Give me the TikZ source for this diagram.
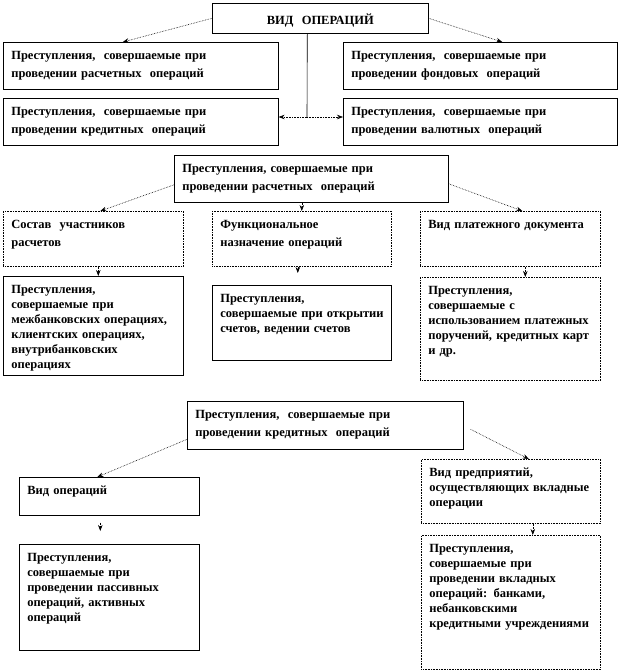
\documentclass[tikz,border=0pt]{standalone}
\usepackage{fontspec}
\setmainfont{Liberation Serif}
\usetikzlibrary{arrows.meta}

\begin{document}
\begin{tikzpicture}[x=1pt,y=-1pt,
  font=\bfseries\fontsize{12.5}{15}\selectfont,
  blk/.style={draw=black,line width=0.6pt,anchor=north west,align=left,
              inner xsep=8pt,inner ysep=4pt,text height=13pt},
  dblk/.style={blk,densely dotted},
  wide/.style={font=\bfseries\fontsize{12.5}{18}\selectfont},
  a/.style={-{Stealth[length=6pt,width=4.5pt]},densely dotted,line width=0.6pt},
  ln/.style={line width=0.6pt}]
\useasboundingbox (0,0) rectangle (621,672);

% ------------------------------ kinds -------------------------------------
\node[blk,align=center,text width=200pt,text height=17pt,text depth=5pt] (op) at (212,3)
  {ВИД\ \ ОПЕРАЦИЙ};
\node[blk,wide,text width=259pt,text depth=26pt] (r1) at (3,42)
  {Преступления,\ \ совершаемые при\\проведении расчетных\ \ операций};
\node[blk,wide,text width=258pt,text depth=26pt] (f1) at (343,42)
  {Преступления,\ \ совершаемые при\\проведении фондовых\ \ операций};
\node[blk,wide,text width=259pt,text depth=26pt] (k1) at (3,98)
  {Преступления,\ \ совершаемые при\\проведении кредитных\ \ операций};
\node[blk,wide,text width=258pt,text depth=26pt] (v1) at (343,98)
  {Преступления,\ \ совершаемые при\\проведении валютных\ \ операций};
\draw[a] (op.west) -- ([xshift=-18pt]r1.north);
\draw[a] (op.east) -- ([xshift=22pt]f1.north);
% the trunk goes down between the lower pair
\coordinate (fork) at (307,117);
\draw[ln] ([xshift=-13pt]op.south) -- (fork);
\draw[a] (fork) -- (fork -| k1.east);
\draw[a] (fork) -- (fork -| v1.west);

% ---------------------------- settlements ---------------------------------
\node[blk,wide,text width=258pt,text depth=26pt] (h2) at (174,155)
  {Преступления, совершаемые при\\проведении расчетных\ \ операций};
\node[dblk,wide,text width=164pt,text depth=34pt] (c1) at (3,211)
  {Состав\ \ участников\\расчетов};
\node[dblk,wide,text width=163pt,text depth=34pt] (c2) at (212,211)
  {Функциональное\\назначение операций};
\node[dblk,wide,text width=164pt,text depth=34pt] (c3) at (420,211)
  {Вид платежного~документа};
\node[blk,text width=164pt,text depth=78pt] (g1) at (3,276)
  {Преступления,\\совершаемые при\\межбанковских~операциях,\\клиентских~операциях,\\внутрибанковских\\операциях};
\node[blk,text width=163pt,text depth=54pt] (g2) at (212,285)
  {Преступления,\\совершаемые~при~открытии\\счетов, ведении счетов};
\node[dblk,text width=164pt,text depth=82pt] (g3) at (420,277)
  {Преступления,\\совершаемые с\\использованием~платежных\\поручений,~кредитных~карт\\и др.};
\draw[a] ([yshift=-6pt]h2.west) -- ([xshift=7pt]c1.north);
\draw[a] (c2.north |- h2.south) -- (c2.north);
\draw[a] ([yshift=-5pt]h2.east) -- ([xshift=12pt]c3.north);
\draw[a] ([xshift=5pt]c1.south) -- ([xshift=5pt]g1.north);
\draw[a,shorten >=12pt] ([xshift=-4pt]c2.south) -- ([xshift=-4pt]g2.north);
\draw[a] ([xshift=15pt]c3.south) -- ([xshift=15pt]g3.north);

% ------------------------------ credits -----------------------------------
\node[blk,wide,text width=260pt,text depth=27pt] (h3) at (187,401)
  {Преступления,\ \ совершаемые при\\проведении кредитных\ \ операций};
\node[blk,text width=164pt,text depth=17pt] (d1) at (19,477)
  {Вид операций};
\node[blk,text width=164pt,text depth=85pt] (e1) at (19,544)
  {Преступления,\\совершаемые при\\проведении пассивных\\операций, активных\\операций};
\node[dblk,text width=163pt,text depth=43pt] (d2) at (421,459)
  {Вид предприятий,\\осуществляющих~вкладные\\операции};
\node[dblk,text width=163pt,text depth=113pt] (e2) at (421,535)
  {Преступления,\\совершаемые при\\проведении вкладных\\операций: банками,\\небанковскими\\кредитными~учреждениями};
\draw[a] ([yshift=-14pt]h3.west) -- ([xshift=-12pt]d1.north);
\draw[a] ([xshift=7pt,yshift=-4pt]h3.east) -- ([xshift=18pt]d2.north);
% floating tip between the two left boxes
\draw[a,shorten <=7pt,shorten >=13pt] ([xshift=-9pt]d1.south) -- ([xshift=-9pt]e1.north);
\draw[a] ([xshift=22pt]d2.south) -- ([xshift=22pt]e2.north);
\end{tikzpicture}
\end{document}
